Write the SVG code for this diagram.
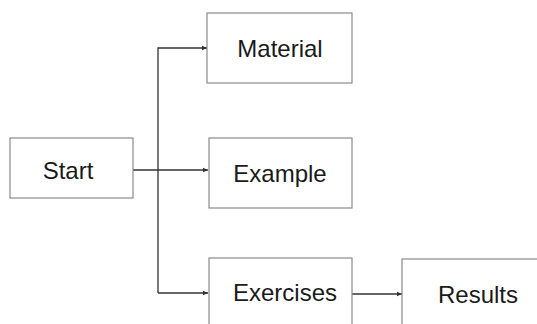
<svg xmlns="http://www.w3.org/2000/svg" width="537" height="324" viewBox="0 0 537 324">
<style>
.box{fill:#fff;stroke:#8a8a8a;stroke-width:1.2}
.lbl{font-family:"Liberation Sans",Arial,sans-serif;font-size:24px;fill:#1a1a1a;text-anchor:middle}
.conn{fill:none;stroke:#333;stroke-width:1.3}
</style>
<defs>
<marker id="ah" markerWidth="6" markerHeight="6" refX="5" refY="3" orient="auto" markerUnits="userSpaceOnUse">
<path d="M0,0.8 L5,3 L0,5.2 z" fill="#333"/>
</marker>
</defs>
<rect width="537" height="324" fill="#fff"/>
<g id="connectors">
<path class="conn" d="M133,170 H208" marker-end="url(#ah)"/>
<path class="conn" d="M158,293 V48 H207" marker-end="url(#ah)"/>
<path class="conn" d="M158,293 H208" marker-end="url(#ah)"/>
<path class="conn" d="M352,294 H402" marker-end="url(#ah)"/>
</g>
<g id="start"><rect class="box" x="10" y="138" width="123" height="60"/><text class="lbl" x="68" y="179">Start</text></g>
<g id="material"><rect class="box" x="207" y="13" width="145" height="70"/><text class="lbl" x="280" y="57">Material</text></g>
<g id="example"><rect class="box" x="209" y="138" width="143" height="70"/><text class="lbl" x="280" y="182">Example</text></g>
<g id="exercises"><rect class="box" x="209" y="258" width="143" height="80"/><text class="lbl" x="285" y="301">Exercises</text></g>
<g id="results"><rect class="box" x="402" y="259" width="150" height="80"/><text class="lbl" x="478" y="303">Results</text></g>
</svg>
